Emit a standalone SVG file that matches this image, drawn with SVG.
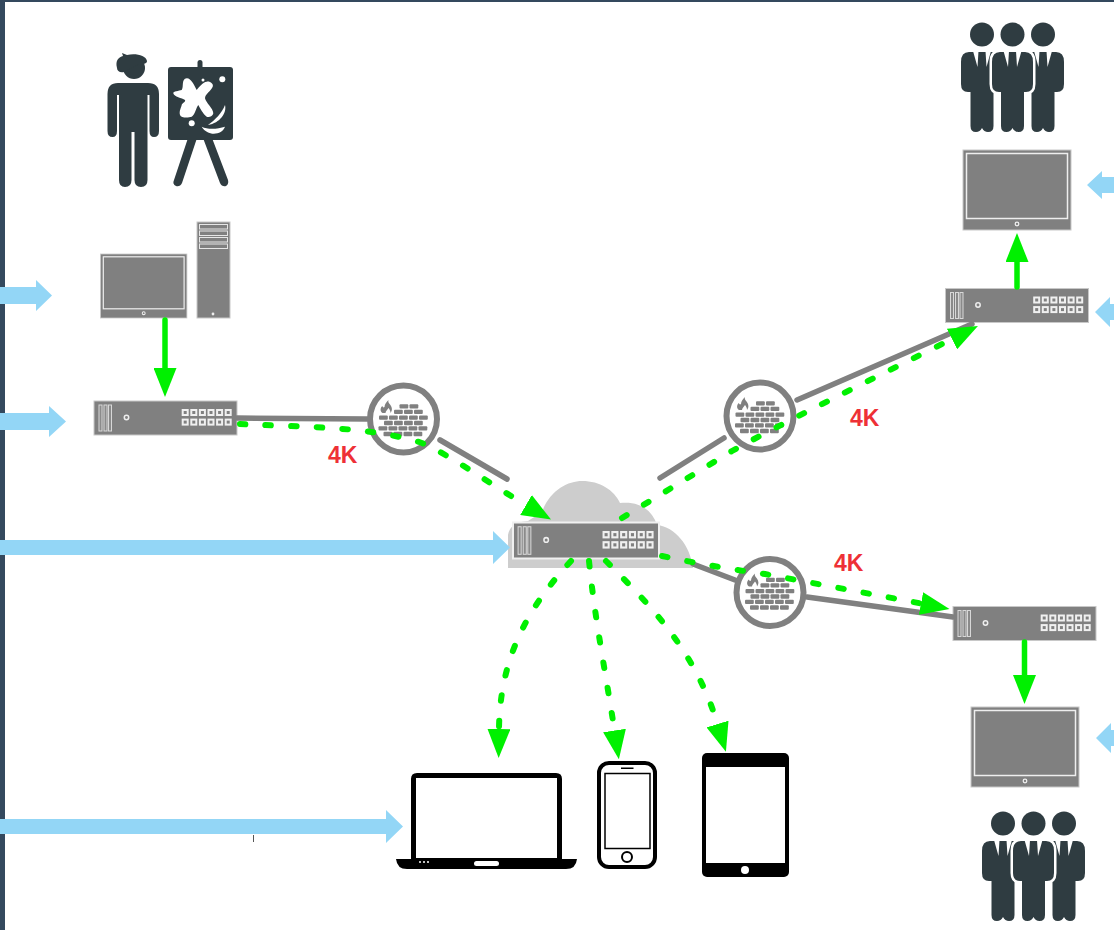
<svg xmlns="http://www.w3.org/2000/svg" xmlns:xlink="http://www.w3.org/1999/xlink" width="1114" height="930" viewBox="0 0 1114 930">
<style>
.ic{fill:#2f3c41}
.w{fill:#fff}
.g{fill:#808080}
.gl{fill:none;stroke:#808080;stroke-width:5.500;stroke-linecap:round}
.dash{fill:none;stroke:#00f000;stroke-width:6;stroke-linecap:round;stroke-dasharray:5.500 20.100}
.solid{fill:none;stroke:#00f000;stroke-width:5.500;stroke-linecap:round}
.blue{fill:#93d6f6}
.k{fill:#000}
.lab{font-family:"Liberation Sans",Arial,sans-serif;font-weight:700;font-size:23px;fill:#ee3036}
.port{fill:#808080;stroke:#f0f0f0;stroke-width:2}
.bar{fill:#8a8a8a;stroke:#d8d8d8;stroke-width:1}
</style>
<defs>
<marker id="tip" markerUnits="userSpaceOnUse" viewBox="0 0 29 23" markerWidth="29" markerHeight="23" refX="0" refY="11.500" orient="auto"><path d="M0 0L29 11.500L0 23Z" fill="#00f000"/></marker>
<g id="sw">
<rect x="0" y="0" width="143" height="34" fill="#808080" stroke="#c8c8c8" stroke-width="1"/>
<rect class="bar" x="5" y="4" width="3" height="26"/><rect class="bar" x="10" y="4" width="3" height="26"/><rect class="bar" x="14.500" y="4" width="3" height="26"/>
<circle cx="32.500" cy="16.500" r="2.200" fill="#808080" stroke="#eee" stroke-width="1.500"/>
<g>
<rect class="port" x="88.700" y="9" width="5" height="5"/><rect class="port" x="97.300" y="9" width="5" height="5"/><rect class="port" x="105.900" y="9" width="5" height="5"/><rect class="port" x="114.500" y="9" width="5" height="5"/><rect class="port" x="123.100" y="9" width="5" height="5"/><rect class="port" x="131.700" y="9" width="5" height="5"/>
<rect class="port" x="88.700" y="18.600" width="5" height="5"/><rect class="port" x="97.300" y="18.600" width="5" height="5"/><rect class="port" x="105.900" y="18.600" width="5" height="5"/><rect class="port" x="114.500" y="18.600" width="5" height="5"/><rect class="port" x="123.100" y="18.600" width="5" height="5"/><rect class="port" x="131.700" y="18.600" width="5" height="5"/>
</g>
</g>
<g id="mon">
<rect x="0" y="0" width="108" height="80" fill="#808080" stroke="#c8c8c8" stroke-width="1"/>
<rect x="3.500" y="3.500" width="101" height="65" fill="none" stroke="#eee" stroke-width="1.500"/>
<circle cx="54" cy="74" r="1.800" fill="#808080" stroke="#eee" stroke-width="1.300"/>
</g>
<g id="fw">
<circle r="33.500" fill="#fff" stroke="#808080" stroke-width="6"/>
<path class="g" d="M-21-6C-24-8-23-12-21-13C-21-12-20-11-19-12C-19-15-17-17-15-19C-16-16-13-15-12-12C-11-9-12-8-13-6C-13-8-14-10-15-11C-16-9-18-8-18-6Z"/>
<g class="g">
<rect x="-4" y="-14.800" width="8.800" height="4.400" rx="1"/><rect x="6" y="-14.800" width="8.800" height="4.400" rx="1"/>
<rect x="-9.500" y="-9.300" width="8.800" height="4.400" rx="1"/><rect x=".5" y="-9.300" width="8.800" height="4.400" rx="1"/><rect x="10.500" y="-9.300" width="8.800" height="4.400" rx="1"/>
<rect x="-24.500" y="-3.600" width="8.800" height="4.400" rx="1"/><rect x="-14.500" y="-3.600" width="8.800" height="4.400" rx="1"/><rect x="-4.500" y="-3.600" width="8.800" height="4.400" rx="1"/><rect x="5.500" y="-3.600" width="8.800" height="4.400" rx="1"/><rect x="15.500" y="-3.600" width="8.800" height="4.400" rx="1"/>
<rect x="-19.500" y="1.800" width="8.800" height="4.400" rx="1"/><rect x="-9.500" y="1.800" width="8.800" height="4.400" rx="1"/><rect x=".5" y="1.800" width="8.800" height="4.400" rx="1"/><rect x="10.500" y="1.800" width="8.800" height="4.400" rx="1"/>
<rect x="-25" y="7.200" width="8.800" height="4.400" rx="1"/><rect x="-15" y="7.200" width="8.800" height="4.400" rx="1"/><rect x="-5" y="7.200" width="8.800" height="4.400" rx="1"/><rect x="5" y="7.200" width="8.800" height="4.400" rx="1"/><rect x="15" y="7.200" width="8.800" height="4.400" rx="1"/>
<rect x="-20" y="12.800" width="8.800" height="4.400" rx="1"/><rect x="-10" y="12.800" width="8.800" height="4.400" rx="1"/><rect x="0" y="12.800" width="8.800" height="4.400" rx="1"/><rect x="10" y="12.800" width="8.800" height="4.400" rx="1"/>
</g>
</g>
<g id="side">
<circle cx="0" cy="34.500" r="12" class="ic"/>
<path class="ic" d="M-13 52H13Q21 52 21 62V84Q21 92 14 92H11.500V126Q11.500 132 6 132Q2 132 0 128Q-2 132-6 132Q-11.500 132-11.500 126V92H-14Q-21 92-21 84V62Q-21 52-13 52Z"/>
<path class="w" d="M-9 51H-3.500L-4.500 67ZM9 51H3.500L4.500 67Z"/>
</g>
<g id="team">
<use xlink:href="#side" href="#side" transform="translate(982 0)"/>
<use xlink:href="#side" href="#side" transform="translate(1043 0)"/>
<circle cx="1012.500" cy="34.500" r="12" class="ic"/>
<path class="ic" stroke="#fff" stroke-width="5" paint-order="stroke" d="M1000 52H1025Q1033 52 1033 62V84Q1033 92 1026 92H1024V126Q1024 132 1018.500 132Q1014.500 132 1012.500 128Q1010.500 132 1006.500 132Q1001 132 1001 126V92H999Q992 92 992 84V62Q992 52 1000 52Z"/>
<path class="w" d="M1003.500 51H1009L1008 67ZM1021.500 51H1016L1017 67Z"/>
</g>
</defs>
<rect width="1114" height="930" fill="#fff"/>
<rect x="0" y="0" width="1114" height="2" fill="#34495e"/>
<rect x="0" y="0" width="5" height="930" fill="#34495e"/>

<g id="painter">
<circle cx="134" cy="68" r="11" class="ic"/>
<path class="ic" d="M117 68C115 60 119 57 123 56L122 53L127 55C135 53 146 55 147 61C147 64 143 64 139 64L124 72C120 73 117 71 117 68Z"/>
<path class="ic" d="M118 83H148Q159 83 159 94V131Q159 137 154 137Q149.500 137 149.500 131V95H147.500V180Q147.500 187 141 187Q134.500 187 134.500 180V132H131.500V180Q131.500 187 125 187Q119 187 119 180V95H117V131Q117 137 112.500 137Q107.500 137 107.500 131V94Q107.500 83 118 83Z"/>
<rect x="168" y="67" width="65" height="73" rx="3" class="ic"/>
<rect x="197.500" y="60" width="5" height="10" rx="2.500" class="ic"/>
<path class="ic" d="M188 138H197L182 183Q180 187 176 186Q172 184 174 180ZM203 138H212L228 180Q229 184 226 186Q222 187 220 183Z"/>
<path class="w" d="M186.700 78.300C191 78 194 85 196.700 90C199 87 203 82 206.700 81.700C210 81 214 84 212.700 86.700C211 91 205 94 205 98.300C206 103 213 108 213.300 113.300C213 116 209 118 206.700 116.700C203 114 200 108 198.300 105C196 108 195 115 191.700 116.700C188 118 181 118 180 115C179 111 181 108 181.700 105C182 103 186 102 185 100C182 98 174 97 173.300 93.300C173 91 179 91 181.700 90C184 87 181 79 186.700 78.300Z"/>
<circle cx="203" cy="80" r="1.500" class="w"/><circle cx="222.300" cy="79.300" r="3" class="w"/><circle cx="191.700" cy="123.300" r="3" class="w"/>
<path class="w" d="M225 105C227 113 220 123 208 125C215 120 222 113 225 105ZM201.700 126.700C208 130 218 129 225 126.700C222 135 208 137 201.700 126.700Z"/>
</g>
<g id="workstation">
<use xlink:href="#mon" href="#mon" transform="translate(100.500 254) scale(.8 .8)"/>
<rect x="197" y="222" width="33" height="96" fill="#808080" stroke="#c8c8c8" stroke-width="1"/>
<g fill="#808080" stroke="#e6e6e6" stroke-width="1"><rect x="199.500" y="224.500" width="28" height="4.500"/><rect x="199.500" y="231" width="28" height="4.500"/><rect x="199.500" y="237.500" width="28" height="4.500"/><rect x="199.500" y="244" width="28" height="4.500"/></g>
<circle cx="213" cy="314" r="1.400" fill="#eee"/>
</g>
<g id="switch-left"><use xlink:href="#sw" href="#sw" transform="translate(94 401)"/></g>
<g id="cloud"><path fill="#cdcdcd" d="M508 568V535Q510 522 528 521L542 512C550 490 568 481 582 481C600 481 614 490 620 503C640 501 652 510 657 525C675 527 690 545 693 568Z"/></g>
<g id="switch-center"><use xlink:href="#sw" href="#sw" transform="translate(513 522.500) scale(1.021 1.060)"/><rect x="513" y="522.500" width="146" height="36" fill="none" stroke="#f0f0f0" stroke-width="2"/></g>
<g id="switch-top"><use xlink:href="#sw" href="#sw" transform="translate(945.500 288.500)"/></g>
<g id="switch-bottom"><use xlink:href="#sw" href="#sw" transform="translate(953 606.500)"/></g>
<g id="monitor-top"><use xlink:href="#mon" href="#mon" transform="translate(963 150)"/></g>
<g id="monitor-bottom"><use xlink:href="#mon" href="#mon" transform="translate(971 707)"/></g>
<g id="team-top"><use xlink:href="#team" href="#team"/></g>
<g id="team-bottom"><use xlink:href="#team" href="#team" transform="translate(21 789)"/></g>
<g id="laptop">
<path class="k" fill-rule="evenodd" d="M417 773H556Q562 773 562 779V859H411V779Q411 773 417 773ZM416 778V858H557V778Z"/>
<path class="k" d="M396 859H577Q576 869 566 869H407Q397 869 396 859Z"/>
<rect x="474" y="861" width="25" height="5" rx="2.500" class="w"/>
<circle cx="420" cy="862" r="1" class="w"/><circle cx="424" cy="862" r="1" class="w"/><circle cx="428" cy="862" r="1" class="w"/>
</g>
<g id="phone">
<rect x="599" y="763" width="56" height="104" rx="10" fill="#fff" stroke="#000" stroke-width="4"/>
<rect x="605" y="773.500" width="45" height="75" fill="none" stroke="#000" stroke-width="1.500"/>
<rect x="621" y="767.500" width="12.500" height="1.500" class="k"/>
<circle cx="627" cy="857" r="5" fill="#fff" stroke="#000" stroke-width="2"/>
</g>
<g id="tablet">
<rect x="702" y="753" width="87" height="124" rx="5" class="k"/>
<rect x="706" y="767" width="79" height="96" class="w"/>
<circle cx="745" cy="870" r="4" class="w"/>
</g>
<g id="firewall-left"><use xlink:href="#fw" href="#fw" transform="translate(403.500 419)"/></g>
<g id="firewall-top"><use xlink:href="#fw" href="#fw" transform="translate(760 416)"/></g>
<g id="firewall-bottom"><use xlink:href="#fw" href="#fw" transform="translate(770 592.500)"/></g>

<g id="connectors">
<path class="gl" d="M237 418L367 419M440 440L507 479M660 478L724 438M797 400L972 324M693 564L735 580M807 597L953 617"/>
<path class="dash" marker-end="url(#tip)" d="M240 424C300 427 370 426 422 443C450 455 490 484 526 505"/>
<path class="dash" marker-end="url(#tip)" d="M622 518L732 451C775 427 880 375 952 339"/>
<path class="dash" marker-end="url(#tip)" d="M662 556C700 564 735 570 765 574L921 603.500"/>
<path class="dash" marker-end="url(#tip)" d="M571 561C535 600 500 650 499 729"/>
<path class="dash" marker-end="url(#tip)" d="M589 561C595 620 606 675 614.500 730.500"/>
<path class="dash" marker-end="url(#tip)" d="M606 561C650 605 695 650 717.500 724"/>
<path class="solid" marker-end="url(#tip)" d="M165 320V368"/>
<path class="solid" marker-end="url(#tip)" d="M1017 287V262"/>
<path class="solid" marker-end="url(#tip)" d="M1024.500 642V675"/>
<path class="blue" d="M0 287H36V280L52 295.500L36 311V304H0Z"/>
<path class="blue" d="M0 413H49V406L66 421.500L49 437V430H0Z"/>
<path class="blue" d="M0 540H493V531L510 547.500L493 564V555H0Z"/>
<path class="blue" d="M0 819H386V810L403 826.500L386 843V834H0Z"/>
<path class="blue" d="M1114 177H1102V171L1087 185L1102 199V193H1114Z"/>
<path class="blue" d="M1114 304H1110V297L1095 312L1110 327V320H1114Z"/>
<path class="blue" d="M1114 730H1111V723L1096 738L1111 753V746H1114Z"/>
<rect x="253" y="835" width="1" height="7" fill="#555"/>
</g>
<text class="lab" x="328" y="463">4K</text>
<text class="lab" x="850" y="426">4K</text>
<text class="lab" x="834" y="571">4K</text>
</svg>
